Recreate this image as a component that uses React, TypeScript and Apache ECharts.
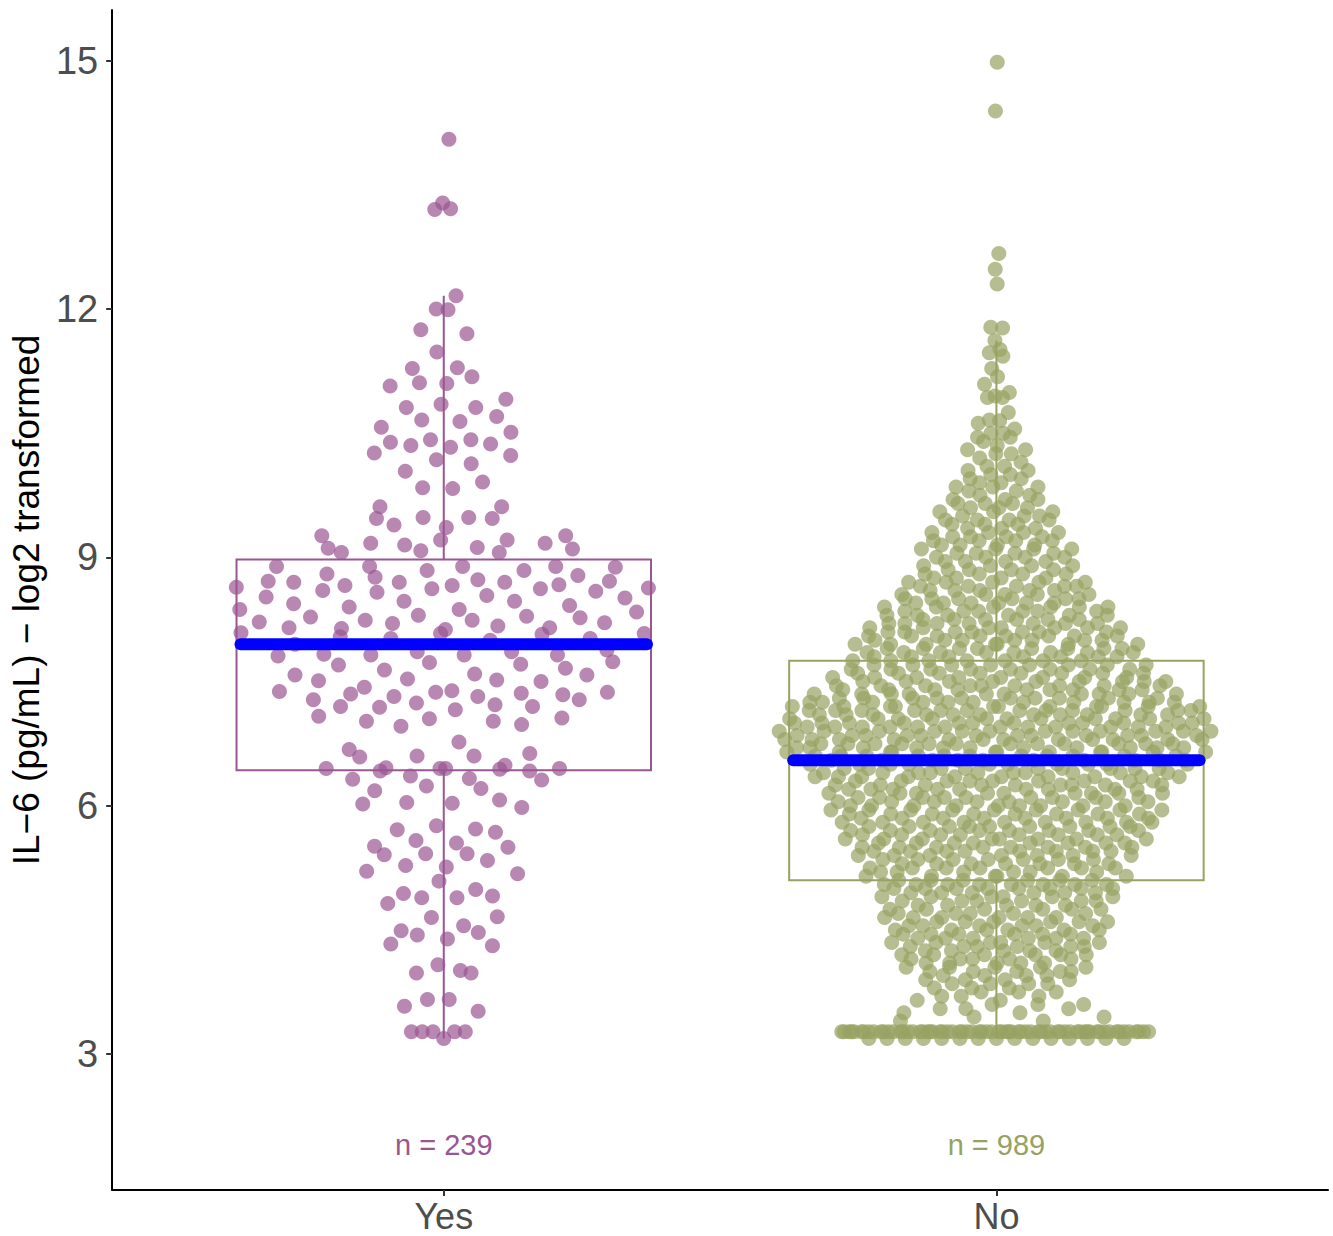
import React, { useEffect, useRef } from "react";
import * as echarts from "echarts";

// ---------------- data ----------------
const categories = ["Yes", "No"];
const groupColors = ["#9A5593", "#97A262"];
const medianColor = "#0000FF";
const yTickValues = [3, 6, 9, 12, 15];
const nLabelY = 1.9;

// group "Yes": IL-6 values (log2) read point by point
const yesValues = [
  14.05, 13.2, 13.28, 13.21, 12.16, 12.0, 11.99, 11.75, 11.7, 11.48, 11.28, 11.29, 11.18, 11.07, 11.11, 11.1,
  10.91, 10.81, 10.85, 10.81, 10.7, 10.66, 10.64, 10.57, 10.51,
  10.39, 10.35, 10.42, 10.33, 10.42, 10.37, 10.26, 10.18, 10.23, 10.13, 10.04,
  9.91, 9.84, 9.83, 9.61, 9.61, 9.47, 9.48, 9.48, 9.47, 9.39, 9.36,
  9.26, 9.11, 9.06, 9.17, 9.15, 9.08, 9.21, 9.12, 9.06, 9.21, 9.17, 9.26, 9.1,
  8.89, 8.64, 8.71, 8.7, 8.8, 8.6, 8.66, 8.89, 8.76, 8.58, 8.71, 8.84, 8.62, 8.66, 8.89, 8.73, 8.54, 8.7, 8.84,
  8.62, 8.89, 8.67, 8.78, 8.59, 8.7, 8.88, 8.63,
  8.51, 8.34, 8.52, 8.37, 8.44, 8.4, 8.47, 8.47, 8.42,
  8.22, 8.15, 8.28, 8.14, 8.24, 8.2, 8.3, 8.37, 8.24, 8.17, 8.29, 8.27, 8.21,
  8.09, 8.04, 8.02, 8.08, 8.13, 8.0, 8.07, 8.15, 8.02, 8.08,
  7.95, 7.88, 7.86, 7.86, 7.83, 7.82, 7.82, 7.82, 7.81,
  7.73, 7.71, 7.74, 7.7,
  7.58, 7.64, 7.59, 7.66, 7.58,
  7.51, 7.53, 7.52, 7.5,
  7.38, 7.28, 7.35, 7.43, 7.32, 7.37, 7.39, 7.32, 7.36, 7.34, 7.37,
  7.2, 7.19, 7.24, 7.16, 7.22, 7.2, 7.28,
  7.08, 7.02, 6.96, 7.05, 7.02, 6.98, 7.06,
  6.77, 6.68, 6.59, 6.6, 6.6, 6.63,
  6.45, 6.42, 6.46, 6.36, 6.45, 6.45, 6.44, 6.49, 6.42, 6.45,
  6.32, 6.33, 6.31,
  6.24, 6.18, 6.21,
  6.02, 6.04, 6.03, 6.07, 5.98,
  5.71, 5.76, 5.72, 5.68,
  5.51, 5.58, 5.55, 5.5,
  5.41, 5.42, 5.42, 5.34,
  5.28, 5.26, 5.21, 5.18, 5.09,
  4.94, 4.89, 4.89, 4.99, 4.91, 4.82,
  4.65, 4.66, 4.49, 4.44, 4.55, 4.47, 4.39, 4.33, 4.31,
  3.98, 4.08, 4.01, 3.98,
  3.66, 3.66, 3.58, 3.52,
  3.27, 3.27, 3.27, 3.27, 3.27, 3.19,
];

// group "No": values at the detection limit (value, count)
const noLimitValues = [3.19, 3.27];
const noLimitCounts = [15, 68];
// group "No": counts per 0.05 step, starting at 3.40
const noGridStart = 3.4;
const noGridStep = 0.05;
const noGridCounts = [
  2, 2, 2, 3, 3, 2, 3, 3, 3, 4, 4, 4, 5, 5, 5, 5, 6, 5, 6, 6,
  6, 6, 6, 6, 6, 6, 5, 6, 5, 6, 6, 6, 8, 8, 6, 6, 6, 7, 7, 7,
  7, 8, 8, 8, 8, 8, 8, 9, 9, 8, 8, 9, 9, 8, 9, 9, 9, 9, 9, 10,
  10, 9, 10, 10, 11, 11, 11, 12, 12, 12, 12, 12, 12, 11, 11, 12, 11, 11, 10, 10,
  9, 9, 9, 8, 8, 8, 8, 7, 7, 8, 8, 7, 7, 8, 7, 7, 7, 6, 6, 6,
  6, 6, 6, 5, 5, 5, 5, 4, 4, 4, 4, 4, 4, 4, 4, 4, 4, 4, 4, 3,
  3, 4, 3, 3, 3, 3, 3, 2, 2, 3, 2, 2, 2, 2, 2, 1, 1, 2, 2, 1,
  1, 2, 2, 1,
];
// group "No": isolated high values read individually
const noSingleValues = [
  14.98, 14.39, 12.67, 12.48, 12.3, 11.78, 11.77, 11.62, 11.51, 11.47, 11.43, 11.28, 11.18, 11.09,
  10.99, 10.95, 10.93, 10.93, 10.75, 10.66, 10.65, 10.62,
];

// ---------------- helpers ----------------
function buildNo(): number[] {
  const out: number[] = [];
  noLimitValues.forEach((v, i) => {
    for (let k = 0; k < noLimitCounts[i]; k++) out.push(v);
  });
  noGridCounts.forEach((c, i) => {
    const v = +(noGridStart + i * noGridStep).toFixed(3);
    for (let k = 0; k < c; k++) out.push(v);
  });
  noSingleValues.forEach((v) => out.push(v));
  return out;
}

function quantile7(sorted: number[], p: number) {
  const h = (sorted.length - 1) * p;
  const lo = Math.floor(h);
  const hi = Math.ceil(h);
  return sorted[lo] + (h - lo) * (sorted[hi] - sorted[lo]);
}

function boxStats(vals: number[]) {
  const s = [...vals].sort((a, b) => a - b);
  const q1 = quantile7(s, 0.25);
  const med = quantile7(s, 0.5);
  const q3 = quantile7(s, 0.75);
  const iqr = q3 - q1;
  const lo = s.find((v) => v >= q1 - 1.5 * iqr) as number;
  const hi = [...s].reverse().find((v) => v <= q3 + 1.5 * iqr) as number;
  return { q1, med, q3, lo, hi };
}

function vdc(i: number) {
  let r = 0;
  let f = 0.5;
  while (i > 0) {
    r += f * (i & 1);
    i >>= 1;
    f /= 2;
  }
  return r;
}

// quasirandom (vipor / ggbeeswarm style) horizontal offsets, bandwidth adjust 0.5
function quasirandomOffsets(vals: number[], width: number, adjust: number) {
  const n = vals.length;
  const s = [...vals].sort((a, b) => a - b);
  const mean = vals.reduce((a, b) => a + b, 0) / n;
  const sd = Math.sqrt(vals.reduce((a, b) => a + (b - mean) * (b - mean), 0) / (n - 1));
  const iqr = quantile7(s, 0.75) - quantile7(s, 0.25);
  const bw = adjust * 0.9 * Math.min(sd, iqr / 1.34) * Math.pow(n, -0.2);
  const dens = (x: number) => {
    let t = 0;
    for (const v of vals) {
      const z = (x - v) / bw;
      t += Math.exp(-0.5 * z * z);
    }
    return t;
  };
  const from = s[0] - 3 * bw;
  const to = s[n - 1] + 3 * bw;
  let max = 0;
  for (let k = 0; k < 512; k++) max = Math.max(max, dens(from + ((to - from) * k) / 511));
  const idx = vals.map((_, i) => i).sort((a, b) => vals[a] - vals[b] || a - b);
  const rank: number[] = new Array(n);
  idx.forEach((orig, r) => (rank[orig] = r + 1));
  return vals.map((v, i) => (vdc(rank[i]) - 0.5) * 2 * width * Math.min(1, dens(v) / max));
}

const FONT = "'Liberation Sans', Arial, Helvetica, sans-serif";

export default function App() {
  const ref = useRef<HTMLDivElement>(null);

  useEffect(() => {
    if (!ref.current) return;
    const chart = echarts.init(ref.current, undefined, { renderer: "svg" });
    const groups = [yesValues, buildNo()];
    const stats = groups.map(boxStats);

    const scatterSeries = groups.map((vals, gi) => {
      const offs = quasirandomOffsets(vals, 0.4, 0.5);
      return {
        type: "scatter",
        name: categories[gi],
        data: vals.map((v, i) => [gi + 1 + offs[i], v]),
        symbol: "circle",
        symbolSize: 15,
        itemStyle: { color: groupColors[gi], opacity: 0.7 },
        silent: true,
        z: 2,
      };
    });

    const boxSeries = {
      type: "custom",
      z: 3,
      silent: true,
      encode: { x: 0, y: [1, 2, 3, 4, 5] },
      data: stats.map((st, gi) => [gi + 1, st.lo, st.q1, st.med, st.q3, st.hi]),
      renderItem: (params: any, api: any) => {
        const xc = api.value(0);
        const hw = 0.375;
        const color = groupColors[params.dataIndex];
        const tl = api.coord([xc - hw, api.value(4)]);
        const br = api.coord([xc + hw, api.value(2)]);
        const top = api.coord([xc, api.value(5)]);
        const bot = api.coord([xc, api.value(1)]);
        const ml = api.coord([xc - hw, api.value(3)]);
        const mr = api.coord([xc + hw, api.value(3)]);
        return {
          type: "group",
          children: [
            { type: "line", shape: { x1: top[0], y1: top[1], x2: top[0], y2: tl[1] }, style: { stroke: color, lineWidth: 2 } },
            { type: "line", shape: { x1: bot[0], y1: br[1], x2: bot[0], y2: bot[1] }, style: { stroke: color, lineWidth: 2 } },
            {
              type: "rect",
              shape: { x: tl[0], y: tl[1], width: br[0] - tl[0], height: br[1] - tl[1] },
              style: { fill: "none", stroke: color, lineWidth: 2 },
            },
            {
              type: "line",
              shape: { x1: ml[0] + 4, y1: ml[1], x2: mr[0] - 4, y2: mr[1] },
              style: { stroke: medianColor, lineWidth: 12, lineCap: "round" },
            },
          ],
        };
      },
    };

    const nSeries = {
      type: "custom",
      z: 4,
      silent: true,
      encode: { x: 0, y: 1 },
      data: groups.map((vals, gi) => [gi + 1, nLabelY, vals.length]),
      renderItem: (params: any, api: any) => {
        const p = api.coord([api.value(0), api.value(1)]);
        return {
          type: "text",
          x: p[0],
          y: p[1],
          style: {
            text: "n = " + api.value(2),
            fill: groupColors[params.dataIndex],
            fontSize: 29,
            fontFamily: FONT,
            align: "center",
            verticalAlign: "middle",
            textAlign: "center",
            textVerticalAlign: "middle",
          },
        };
      },
    };

    chart.setOption({
      animation: false,
      backgroundColor: "#ffffff",
      grid: { left: 111, top: 10, width: 1217, height: 1180, containLabel: false },
      xAxis: {
        type: "value",
        min: 0.4,
        max: 2.6,
        splitLine: { show: false },
        axisLine: { show: true, onZero: false, lineStyle: { color: "#000", width: 2 } },
        axisTick: { show: true, customValues: [1, 2], length: 6, lineStyle: { color: "#333", width: 2 } },
        axisLabel: {
          customValues: [1, 2],
          formatter: (v: number) => categories[Math.round(v) - 1] ?? "",
          fontSize: 36,
          color: "#4D4D4D",
          margin: 8,
          fontFamily: FONT,
        },
      },
      yAxis: {
        type: "value",
        min: 1.36,
        max: 15.61,
        splitLine: { show: false },
        axisLine: { show: true, onZero: false, lineStyle: { color: "#000", width: 2 } },
        axisTick: { show: true, customValues: yTickValues, length: 6, lineStyle: { color: "#333", width: 2 } },
        axisLabel: {
          customValues: yTickValues,
          fontSize: 38,
          color: "#4D4D4D",
          margin: 14,
          fontFamily: FONT,
        },
        name: "IL\u22126 (pg/mL) \u2212 log2 transformed",
        nameLocation: "middle",
        nameRotate: 90,
        nameGap: 63,
        nameTextStyle: { fontSize: 37, color: "#000", fontFamily: FONT },
      },
      series: [...scatterSeries, boxSeries, nSeries],
    });

    return () => chart.dispose();
  }, []);

  return (
    <div
      ref={ref}
      style={{ position: "absolute", left: 0, top: 0, width: 1333, height: 1236, background: "#fff" }}
    />
  );
}
